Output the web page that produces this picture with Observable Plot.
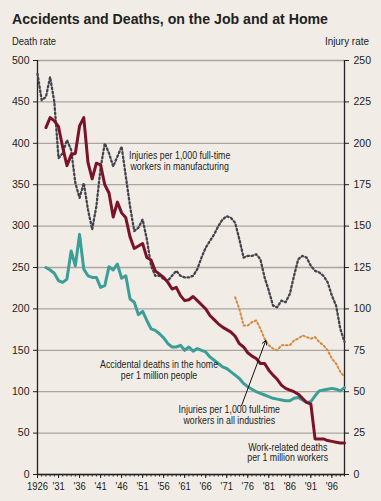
<!DOCTYPE html>
<html><head><meta charset="utf-8">
<script src="https://cdn.jsdelivr.net/npm/d3@7"></script>
<script src="https://cdn.jsdelivr.net/npm/@observablehq/plot@0.6"></script>
<style>
html,body{margin:0;padding:0;background:#f1ede6;}
#wrap{position:relative;width:381px;height:501px;overflow:hidden;font-family:"Liberation Sans",Arial,sans-serif;color:#222;}
#title{position:absolute;left:12px;top:10.9px;font-size:15.5px;line-height:1;font-weight:bold;white-space:nowrap;transform-origin:0 0;}
.axlab{position:absolute;top:36.2px;font-size:11px;line-height:1;white-space:nowrap;}
#chart{position:absolute;left:0;top:0;}
</style></head><body>
<div id="wrap">
 <div id="chart"></div>
 <div id="title">Accidents and Deaths, on the Job and at Home</div>
 <div class="axlab" id="lt" style="left:12px;transform-origin:0 0">Death rate</div>
 <div class="axlab" id="rt" style="right:12px;transform-origin:100% 0">Injury rate</div>
</div>
<script>
const FONT = '"Liberation Sans",Arial,sans-serif';

// Work-related deaths per 1 million workers (left scale), 1928-1999
const workYears = d3.range(1928, 2000);
const workDeaths = [419,431,427,420,395,373,386,388,421,431,
  377,357,376,374,350,340,311,329,316,310,
  287,273,276,279,262,259,246,242,238,232,
  224,226,216,210,211,215,210,205,200,192,
  187,182,178,175,172,167,158,154,147,143,
  140,134,134,126,120,115,108,104,102,100,
  97,92,87,85,43,43,43,41,40,39,
  38,38];

// Accidental deaths in the home per 1 million people (left scale), 1928-1999
const homeYears = d3.range(1928, 2000);
const homeDeaths = [250,247,243,234,232,236,270,252,290,248,
  240,238,238,226,228,251,247,254,237,240,
  212,208,193,197,186,176,174,170,165,158,
  154,154,156,150,154,149,152,150,148,142,
  138,134,130,128,124,120,116,110,106,103,
  100,98,96,94,92,91,90,89,89,92,
  93,90,87,88,95,101,102,103,104,103,
  101,105];

// Injuries per 1,000 full-time workers in manufacturing (right scale), 1926-1999
const manuYears = d3.range(1926, 2000);
const manuInjuries = [242,226,228,240,225,191,194,202,196,176,
  167,176,160,148,162,185,200,194,186,192,
  198,180,162,147,149,154,142,126,120,120,
  118,117,120,123,120,119,119,120,124,131,
  137,141,145,150,154,156,155,152,142,131,
  132,132,133,130,119,111,102,101,105,104,
  109,120,130,132,131,126,123,122,120,116,
  108,102,88,80];

// Injuries per 1,000 full-time workers in all industries (right scale), 1973-1999
const allYears = d3.range(1973, 2000);
const allInjuries = [107,100,90,90,92,93,88,82,78,76,
  75,78,78,78,81,82,84,83,82,83,
  80,78,75,70,67,62,59];

// Axis ticks
const leftTicks = d3.range(0, 501, 50);
const rightTickLabels = d3.range(0, 251, 25);
const majorYears = d3.range(1926, 2000, 5);
const minorYears = d3.range(1926, 2000);
const yearLabel = y => y === 1926 ? "1926" : "'" + String(y).slice(2);

// Annotations (x = year, y = death-rate scale)
const labelX = [1959.8, 1954.9, 1971.6, 1985.5];
const labelY = [378.6, 126, 71.5, 26.6];
const labelText = [
  "Injuries per 1,000 full-time\nworkers in manufacturing",
  "Accidental deaths in the home\nper 1 million people",
  "Injuries per 1,000 full-time\nworkers in all industries",
  "Work-related deaths\nper 1 million workers"
];
const arrowFrom = [1974.5, 83];
const arrowTo = [1980.3, 162];

const work = workYears.map((year, i) => ({year, v: workDeaths[i]}));
const home = homeYears.map((year, i) => ({year, v: homeDeaths[i]}));
const manu = manuYears.map((year, i) => ({year, v: manuInjuries[i]}));
const all = allYears.map((year, i) => ({year, v: allInjuries[i]}));
const labels = labelText.map((text, i) => ({x: labelX[i], y: labelY[i], text}));
const arrows = [{x1: arrowFrom[0], y1: arrowFrom[1], x2: arrowTo[0], y2: arrowTo[1]}];
const RIGHT = 2; // injury-rate scale is half the death-rate scale

const chart = Plot.plot({
  width: 381, height: 501,
  marginTop: 60, marginBottom: 27, marginLeft: 37, marginRight: 37,
  style: {background: "transparent", fontFamily: FONT, fontSize: "10.5px", color: "#222", overflow: "visible"},
  x: {domain: [1926, 1999], label: null},
  y: {domain: [0, 500], label: null},
  marks: [
    Plot.gridY(leftTicks, {stroke: "#aaa69f", strokeOpacity: 1, strokeWidth: 1.3}),
    Plot.axisY(leftTicks, {anchor: "left", tickSize: 4, tickPadding: 4, fontSize: 10.5, label: null}),
    Plot.axisY(rightTickLabels.map(d => d * RIGHT), {anchor: "right", tickSize: 4, tickPadding: 5, fontSize: 10.5, label: null, tickFormat: d => d / RIGHT}),
    Plot.axisX(minorYears, {tickSize: 2.5, tickFormat: () => "", label: null}),
    Plot.axisX(majorYears, {tickSize: 4, tickPadding: 4, fontSize: 10.5, tickFormat: yearLabel, label: null}),
    Plot.ruleX([1926, 1999], {stroke: "#222", strokeWidth: 1.3}),
    Plot.ruleY([0], {stroke: "#222", strokeWidth: 1.3}),
    Plot.line(manu, {x: "year", y: d => d.v * RIGHT, stroke: "#44444f", strokeWidth: 2.3, strokeDasharray: "1.7,2.5"}),
    Plot.line(all, {x: "year", y: d => d.v * RIGHT, stroke: "#d4893f", strokeWidth: 2, strokeDasharray: "1.7,2.5"}),
    Plot.line(home, {x: "year", y: "v", stroke: "#3b9e97", strokeWidth: 3, strokeLinejoin: "round"}),
    Plot.line(work, {x: "year", y: "v", stroke: "#7b1328", strokeWidth: 3, strokeLinejoin: "round"}),
    Plot.arrow(arrows, {x1: "x1", y1: "y1", x2: "x2", y2: "y2", stroke: "#111", strokeWidth: 1, headLength: 7}),
    Plot.text(labels, {x: "x", y: "y", text: "text", textAnchor: "middle", lineAnchor: "middle", lineHeight: 1.0, fontSize: 10.5, fill: "#222"})
  ]
});
document.getElementById("chart").appendChild(chart);

// condense text horizontally (the reference uses a condensed face)
function condense(match, s) {
  chart.querySelectorAll("text").forEach(t => {
    if (!match(t.textContent)) return;
    const tr = t.getAttribute("transform") || "";
    const x = +(t.getAttribute("x") || 0);
    t.setAttribute("transform", `${tr} translate(${x},0) scale(${s},1) translate(${-x},0)`);
  });
}
const annSet = new Set(labelText.map(s => s.replace("\n", "")));
const yearSet = new Set(majorYears.map(yearLabel));
condense(s => annSet.has(s), 0.84);
condense(s => yearSet.has(s), 0.9);

// fit the HTML titles to the reference widths
function fit(id, w) {
  const el = document.getElementById(id);
  const cw = el.getBoundingClientRect().width;
  el.style.transform = `scaleX(${w / cw})`;
}
fit("title", 316);
fit("lt", 44);
fit("rt", 44);
</script>
</body></html>
